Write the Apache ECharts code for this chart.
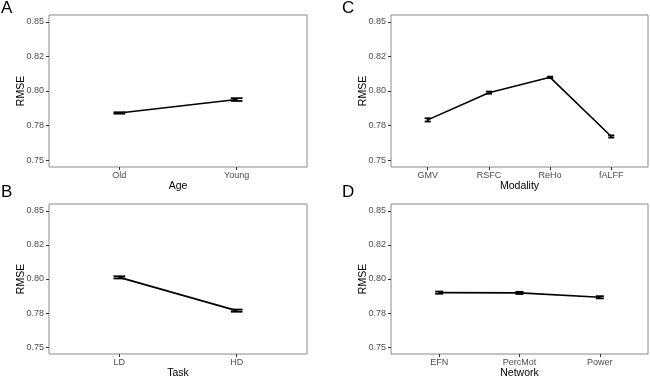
<!DOCTYPE html>
<html>
<head>
<meta charset="utf-8">
<script src="https://cdn.jsdelivr.net/npm/echarts@6/dist/echarts.min.js"></script>
<style>
  html, body { margin: 0; padding: 0; background: #fff; }
  #chart { width: 650px; height: 380px; }
</style>
</head>
<body>
<div id="chart"></div>
<script>
// y ticks sit at 0.025 steps, labels are rounded to two decimals
const yTickValues = [0.75, 0.775, 0.8, 0.825, 0.85];
const yTickLabels = ['0.75', '0.78', '0.80', '0.82', '0.85'];

const ageCats = ['Old', 'Young'];
const ageMean = [0.7841, 0.7938];
const ageErr = [0.0005, 0.001];

const taskCats = ['LD', 'HD'];
const taskMean = [0.8012, 0.7768];
const taskErr = [0.0008, 0.0008];

const modalityCats = ['GMV', 'RSFC', 'ReHo', 'fALFF'];
const modalityMean = [0.7791, 0.7988, 0.8099, 0.7671];
const modalityErr = [0.0012, 0.0008, 0.0005, 0.0008];

const networkCats = ['EFN', 'PercMot', 'Power'];
const networkMean = [0.7900, 0.7898, 0.7866];
const networkErr = [0.0008, 0.0008, 0.0008];

const FONT = 'Liberation Sans, Arial, sans-serif';

const panels = [
    {letter: 'A', name: 'Age', cats: ageCats, mean: ageMean, err: ageErr,
     grid: {left: 49, top: 15, width: 258, height: 152}, lx: 1, ly: 0},
    {letter: 'B', name: 'Task', cats: taskCats, mean: taskMean, err: taskErr,
     grid: {left: 49, top: 204, width: 258, height: 151}, lx: 1, ly: 184},
    {letter: 'C', name: 'Modality', cats: modalityCats, mean: modalityMean, err: modalityErr,
     grid: {left: 391, top: 15, width: 257, height: 152}, lx: 342, ly: 0},
    {letter: 'D', name: 'Network', cats: networkCats, mean: networkMean, err: networkErr,
     grid: {left: 391, top: 204, width: 257, height: 151}, lx: 342, ly: 184}
];

function yLabel(v) {
    let best = 0;
    yTickValues.forEach((t, i) => { if (Math.abs(t - v) < Math.abs(yTickValues[best] - v)) best = i });
    return yTickLabels[best];
}

function errorBar(params, api) {
    const x = api.value(0);
    const lo = api.coord([x, api.value(1)]);
    const hi = api.coord([x, api.value(2)]);
    const cl = api.coord([x - 0.05, api.value(1)]);
    const cr = api.coord([x + 0.05, api.value(1)]);
    const style = {stroke: '#000', lineWidth: 1.8};
    return {
        type: 'group',
        children: [
            {type: 'line', shape: {x1: lo[0], y1: lo[1], x2: hi[0], y2: hi[1]}, style: style},
            {type: 'line', shape: {x1: cl[0], y1: lo[1], x2: cr[0], y2: lo[1]}, style: style},
            {type: 'line', shape: {x1: cl[0], y1: hi[1], x2: cr[0], y2: hi[1]}, style: style}
        ]
    };
}

const option = {
    animation: false,
    textStyle: {fontFamily: FONT},
    title: [],
    grid: [],
    xAxis: [],
    yAxis: [],
    series: []
};

panels.forEach((p, i) => {
    const xs = p.cats.map((c, k) => k + 1);
    option.title.push({
        text: p.letter, left: p.lx, top: p.ly, padding: 0,
        textStyle: {fontSize: 17, fontWeight: 'normal', color: '#000', fontFamily: FONT}
    });
    option.grid.push(Object.assign({show: true, borderColor: '#8a8a8a', borderWidth: 1, backgroundColor: '#fff'}, p.grid));
    option.xAxis.push({
        type: 'value', gridIndex: i, min: 0.4, max: p.cats.length + 0.6,
        name: p.name, nameLocation: 'middle', nameGap: 14, nameMoveOverlap: false,
        nameTextStyle: {fontSize: 10.5, color: '#000', fontFamily: FONT},
        axisLine: {show: false},
        axisTick: {show: true, length: 3, customValues: xs, lineStyle: {color: '#333'}},
        axisLabel: {customValues: xs, margin: 4, fontSize: 9, color: '#4d4d4d', fontFamily: FONT,
                    formatter: v => p.cats[Math.round(v) - 1]},
        splitLine: {show: false}
    });
    option.yAxis.push({
        type: 'value', gridIndex: i, min: 0.745, max: 0.855,
        name: 'RMSE', nameLocation: 'middle', nameGap: 22, nameMoveOverlap: false,
        nameTextStyle: {fontSize: 10.5, color: '#000', fontFamily: FONT},
        axisLine: {show: false},
        axisTick: {show: true, length: 3, customValues: yTickValues, lineStyle: {color: '#333'}},
        axisLabel: {customValues: yTickValues, margin: 5, fontSize: 9, color: '#4d4d4d', fontFamily: FONT,
                    formatter: yLabel},
        splitLine: {show: false}
    });
    option.series.push({
        type: 'line', xAxisIndex: i, yAxisIndex: i,
        data: p.mean.map((m, k) => [k + 1, m]),
        showSymbol: false, lineStyle: {color: '#000', width: 1.6}
    });
    option.series.push({
        type: 'custom', xAxisIndex: i, yAxisIndex: i,
        renderItem: errorBar,
        data: p.mean.map((m, k) => [k + 1, m - p.err[k], m + p.err[k]]),
        z: 3
    });
});

const chart = echarts.init(document.getElementById('chart'));
chart.setOption(option);
</script>
</body>
</html>
